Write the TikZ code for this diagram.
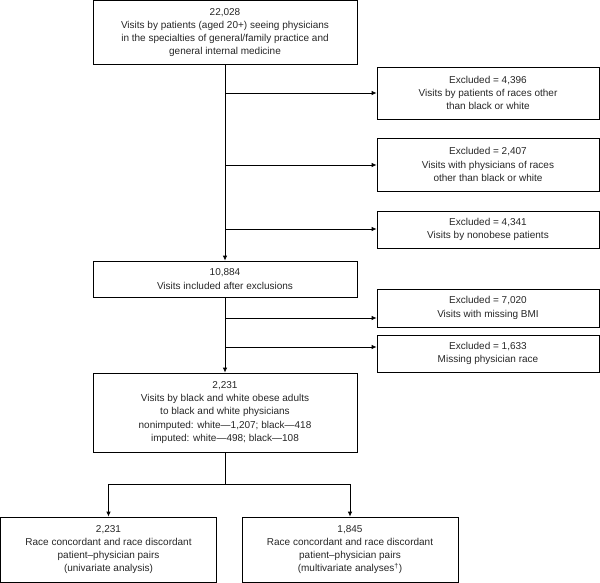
\documentclass[tikz,border=0pt]{standalone}
\usepackage{fontspec}
\setmainfont{Liberation Sans}
\usetikzlibrary{arrows.meta}
\tikzset{
	box/.style={draw, line width=0.8pt, align=center, inner sep=2pt,
		font=\fontsize{10}{13.2}\selectfont, text=black!85},
	flow/.style={line width=0.8pt, -{Latex[length=5pt,width=4.5pt]}}
}
\begin{document}
\begin{tikzpicture}[x=1pt,y=-1pt]
	\useasboundingbox (0,0) rectangle (600,583);
	\node[box, minimum width=264pt, minimum height=64pt] (all) at (225,32.5){22,028\\Visits by patients (aged 20+) seeing physicians\\in the specialties of general/family practice and\\general internal medicine};
	\node[box, minimum width=222pt, minimum height=52pt] (ex1) at (488,93){Excluded = 4,396\\Visits by patients of races other\\than black or white};
	\node[box, minimum width=222pt, minimum height=53pt] (ex2) at (488,164.5){Excluded = 2,407\\Visits with physicians of races\\other than black or white};
	\node[box, minimum width=222pt, minimum height=37pt] (ex3) at (488,229.5){Excluded = 4,341\\Visits by nonobese patients};
	\node[box, minimum width=264pt, minimum height=36pt] (incl) at (225,279){10,884\\Visits included after exclusions};
	\node[box, minimum width=222pt, minimum height=38pt] (ex4) at (488,308){Excluded = 7,020\\Visits with missing BMI};
	\node[box, minimum width=222pt, minimum height=37pt] (ex5) at (488,353.5){Excluded = 1,633\\Missing physician race};
	\node[box, minimum width=264pt, minimum height=79pt] (pop) at (225,412.5){2,231\\Visits by black and white obese adults\\to black and white physicians\\nonimputed: white—1,207; black—418\\imputed: white—498; black—108};
	\node[box, minimum width=216pt, minimum height=65pt] (uni) at (108.5,549.5){2,231\\Race concordant and race discordant\\patient–physician pairs\\(univariate analysis)};
	\node[box, minimum width=216pt, minimum height=65pt] (multi) at (350,549.5){1,845\\Race concordant and race discordant\\patient–physician pairs\\(multivariate analyses\textsuperscript{†})};
	\coordinate (b1) at (225,93);
	\coordinate (b2) at (225,165);
	\coordinate (b3) at (225,229);
	\coordinate (b4) at (225,318);
	\coordinate (b5) at (225,347);
	\coordinate (split) at (225,484);
	\draw [flow] (all) -- (incl);
	\draw [flow] (b1) -- (b1 -| ex1.west);
	\draw [flow] (b2) -- (b2 -| ex2.west);
	\draw [flow] (b3) -- (b3 -| ex3.west);
	\draw [flow] (incl) -- (pop);
	\draw [flow] (b4) -- (b4 -| ex4.west);
	\draw [flow] (b5) -- (b5 -| ex5.west);
	\draw [line width=0.8pt] (pop) -- (split);
	\draw [flow] (split) -| (uni);
	\draw [flow] (split) -| (multi);
\end{tikzpicture}
\end{document}
